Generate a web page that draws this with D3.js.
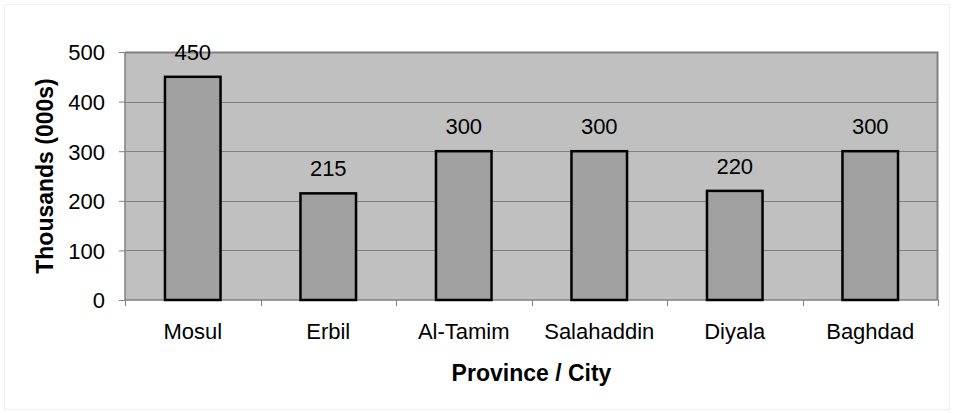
<!DOCTYPE html>
<html>
<head>
<meta charset="utf-8">
<script src="https://cdn.jsdelivr.net/npm/d3@7"></script>
<style>
  body { margin: 0; background: #fff; }
  text { font-family: Arial, "Liberation Sans", sans-serif; fill: #000; }
</style>
</head>
<body>
<svg width="953" height="413"></svg>
<script>
const provinces = ['Mosul', 'Erbil', 'Al-Tamim', 'Salahaddin', 'Diyala', 'Baghdad'];
const thousands = [450, 215, 300, 300, 220, 300];
const yTicks = [0, 100, 200, 300, 400, 500];

const svg = d3.select('svg'),
    width = +svg.attr('width'),
    height = +svg.attr('height');

const margin = {top: 52, right: 15, bottom: 113, left: 125};
const plotW = width - margin.left - margin.right,
    plotH = height - margin.top - margin.bottom;

const data = provinces.map((p, i) => ({name: p, value: thousands[i]}));

// faint outer border
svg.append('rect')
    .attr('x', 4.5).attr('y', 4.5)
    .attr('width', width - 8).attr('height', height - 8)
    .attr('fill', 'none')
    .attr('stroke', '#f0f0f0');

const g = svg.append('g').attr('transform', 'translate(' + margin.left + ',' + margin.top + ')');

const x = d3.scaleBand()
    .domain(provinces)
    .range([0, plotW])
    .paddingInner(0.59)
    .paddingOuter(0.295);

const y = d3.scaleLinear().domain([0, 500]).range([plotH, 0]);

// plot background
g.append('rect')
    .attr('width', plotW)
    .attr('height', plotH)
    .attr('fill', '#c0c0c0');

// gridlines
g.append('g')
    .selectAll('line')
    .data(yTicks.slice(1))
    .enter().append('line')
    .attr('x1', 0).attr('x2', plotW)
    .attr('y1', d => Math.round(y(d)) + 0.5)
    .attr('y2', d => Math.round(y(d)) + 0.5)
    .attr('stroke', '#808080')
    .attr('stroke-width', 1);

// top/right border
g.append('path')
    .attr('d', 'M0,0.5H' + (plotW - 0.5) + 'V' + plotH)
    .attr('fill', 'none')
    .attr('stroke', '#808080')
    .attr('stroke-width', 2);

// y axis
const yAxis = g.append('g')
    .call(d3.axisLeft(y).tickValues(yTicks).tickSize(6).tickPadding(14));
yAxis.select('.domain').attr('stroke', '#808080').attr('stroke-width', 1.5).attr('d', 'M0,0V' + plotH);
yAxis.selectAll('.tick line').attr('stroke', '#808080');
yAxis.selectAll('text').style('font-size', '22px').attr('dy', '0.36em');

// x axis
const xAxis = g.append('g')
    .attr('transform', 'translate(0,' + plotH + ')')
    .call(d3.axisBottom(x).tickSize(0).tickPadding(23));
xAxis.select('.domain').attr('stroke', '#808080').attr('stroke-width', 1.5).attr('d', 'M0,0H' + plotW);
xAxis.selectAll('text').style('font-size', '22px');

// category separators
g.append('g')
    .selectAll('line')
    .data(d3.range(provinces.length + 1))
    .enter().append('line')
    .attr('x1', i => Math.round(i * plotW / provinces.length) + 0.5)
    .attr('x2', i => Math.round(i * plotW / provinces.length) + 0.5)
    .attr('y1', plotH)
    .attr('y2', plotH + 6)
    .attr('stroke', '#808080');

// bars
g.append('g')
    .selectAll('rect')
    .data(data)
    .enter().append('rect')
    .attr('x', d => x(d.name))
    .attr('y', d => y(d.value))
    .attr('width', x.bandwidth())
    .attr('height', d => plotH - y(d.value))
    .attr('fill', '#a0a0a0')
    .attr('stroke', '#000')
    .attr('stroke-width', 2.5);

// value labels
g.append('g')
    .selectAll('text')
    .data(data)
    .enter().append('text')
    .attr('x', d => x(d.name) + x.bandwidth() / 2)
    .attr('y', d => y(d.value) - 17)
    .attr('text-anchor', 'middle')
    .style('font-size', '22px')
    .text(d => d.value);

// axis titles
svg.append('text')
    .attr('transform', 'translate(53,' + (margin.top + plotH / 2) + ')rotate(-90)')
    .attr('text-anchor', 'middle')
    .style('font-size', '23px')
    .style('font-weight', 'bold')
    .text('Thousands (000s)');

svg.append('text')
    .attr('x', margin.left + plotW / 2)
    .attr('y', 381)
    .attr('text-anchor', 'middle')
    .style('font-size', '23px')
    .style('font-weight', 'bold')
    .text('Province / City');
</script>
</body>
</html>
